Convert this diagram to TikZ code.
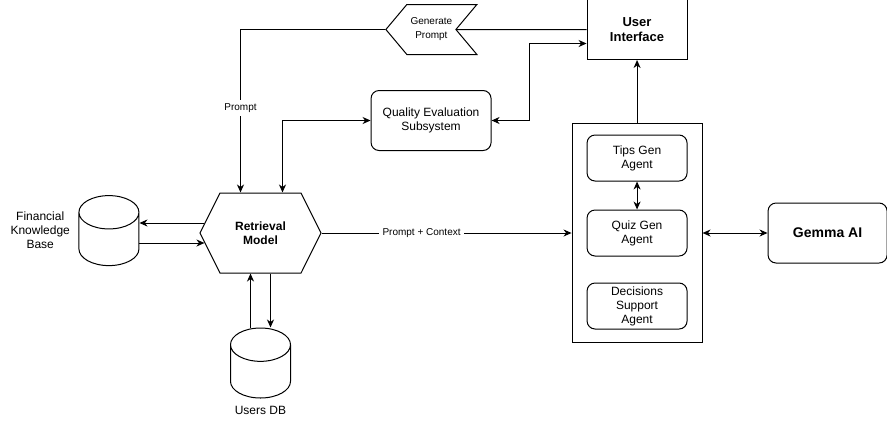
\documentclass[tikz,border=0pt]{standalone}
\usepackage{fontspec}
\setmainfont{Liberation Sans}
\usepackage{tikz}
\usetikzlibrary{arrows.meta, positioning, shapes.geometric, shapes.symbols, calc}

\begin{document}
\begin{tikzpicture}[
    x=1pt, y=-1pt,
    font=\fontsize{12}{14}\selectfont,
    box/.style={draw, rectangle, line width=1pt, minimum width=100pt, minimum height=60pt, align=center},
    rbox/.style={box, rounded corners=8pt},
    agent/.style={rbox, minimum height=46pt},
    db/.style={draw, cylinder, shape border rotate=90, aspect=5.0, line width=1pt, minimum width=60pt, minimum height=70pt},
    small/.style={font=\fontsize{10}{14}\selectfont},
    arrow/.style={-{Stealth[length=8pt, width=7pt, inset=2.5pt]}, line width=1pt},
    arrows2/.style={{Stealth[length=8pt, width=7pt, inset=2.5pt]}-{Stealth[length=8pt, width=7pt, inset=2.5pt]}, line width=1pt}
]
    \useasboundingbox (0,0) rectangle (887,424);

    % Nodes
    \node[draw, signal, signal to=west and east, signal pointer angle=127, line width=1pt,
          minimum width=121pt, minimum height=80pt, align=center, font=\fontsize{12}{14}\selectfont\bfseries]
          (rm) at (260.5,233) {Retrieval\\Model};
    \node[db, yshift=-10pt] (fkb) [left=60pt of rm] {};
    \node[align=center] (fkbtext) [left=5pt of fkb, yshift=13pt] {Financial\\Knowledge\\Base};
    \node[db] (udb) [below=54pt of rm] {};
    \node (udbtext) [below=4pt of udb] {Users DB};

    \node[box, minimum width=130pt, minimum height=219pt] (agents) [right=250pt of rm] {};
    \node[agent] (quiz) at (agents.center) {Quiz Gen\\Agent};
    \node[agent] (tips) [above=28pt of quiz] {Tips Gen\\Agent};
    \node[agent] (dsa) [below=26pt of quiz] {Decisions\\Support\\Agent};
    \node[rbox, minimum width=119pt, font=\fontsize{14}{17}\selectfont\bfseries] (gemma) [right=65pt of agents] {Gemma AI};

    \node[box, font=\fontsize{13}{15}\selectfont\bfseries] (ui) [above=63pt of agents] {User\\Interface};
    \node[draw, signal, signal to=west, signal from=east, signal pointer angle=100, line width=1pt,
          minimum width=91pt, minimum height=50pt, align=center, small] (gp) [left=130pt of ui] {Generate\\Prompt};
    \node[rbox, minimum width=120pt] (qes) [below left=30pt and 95pt of ui] {Quality Evaluation\\Subsystem};

    % Connections
    \draw[line width=1pt] (ui.west) -- (gp);
    \draw[arrow] (gp.west) -| node[pos=0.74, fill=white, small] {Prompt} ([xshift=-20pt]rm.north);
    \draw[arrows2] ([xshift=22pt]rm.north) |- (qes.west);
    \draw[arrows2] (qes.east) -- ++(38,0) |- ([yshift=-14pt]ui.west);
    \draw[arrow] (agents.north) -- (ui.south);
    \draw[arrow] (rm.east) -- node[pos=0.4, fill=white, small] {Prompt + Context} (agents.west);
    \draw[arrows2] (agents.east) -- (gemma.west);
    \draw[arrows2] (tips.south) -- (quiz.north);

    \draw[arrow] ([shift={(5pt,10pt)}]rm.west) -- ($(rm.west -| fkb.east)+(0,-10)$);
    \draw[arrow] ($(rm.west -| fkb.east)+(0,10)$) -- ([shift={(5pt,-10pt)}]rm.west);
    \draw[arrow] ([xshift=-10pt]udb.north) -- ([xshift=-10pt]rm.south);
    \draw[arrow] ([xshift=10pt]rm.south) -- ([xshift=10pt]udb.north);
\end{tikzpicture}
\end{document}
